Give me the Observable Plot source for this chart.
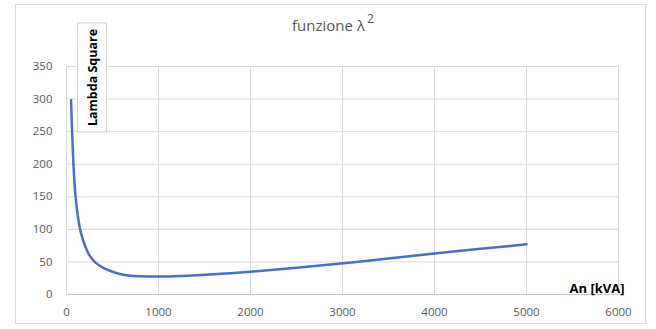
<!DOCTYPE html>
<html><head><meta charset="utf-8">
<script src="https://cdn.jsdelivr.net/npm/d3@7"></script>
<script src="https://cdn.jsdelivr.net/npm/@observablehq/plot@0.6"></script>
<style>
body{margin:0;background:#fff;}
svg{display:block;}
</style>
</head><body><div id="chart"></div>
<script>
const potenza = [50,100,160,250,315,400,500,630,800,1000,1250,1600,2000,2500,3150,4000,5000];
const lambda2 = [298,148,93,60,49,41,35,30,28,27.5,28.5,31,35,41,50,63,77];
const xTicks = [0,1000,2000,3000,4000,5000,6000];
const yTicks = [0,50,100,150,200,250,300,350];
const title = "funzione λ";
const titleSup = "2";
const seriesName = "Lambda Square";
const xLabel = "An [kVA]";

const data = potenza.map((x,i)=>({x, y: lambda2[i]}));
const font = "'Open Sans', 'Liberation Sans', sans-serif";

const chart = Plot.plot({
  width: 656, height: 329,
  marginLeft: 66, marginRight: 38, marginTop: 66, marginBottom: 35,
  style: {fontFamily: font, fontSize: "11.5px", color: "#595959", background: "#fff"},
  x: {domain: [0,6000], ticks: xTicks, tickFormat: "d", tickSize: 0, tickPadding: 13, label: null},
  y: {domain: [0,350], ticks: yTicks, tickFormat: "d", tickSize: 0, tickPadding: 14, label: null},
  marks: [
    Plot.gridX(xTicks, {stroke: "#d9d9d9", strokeOpacity: 1, strokeWidth: 1}),
    Plot.gridY(yTicks, {stroke: "#d9d9d9", strokeOpacity: 1, strokeWidth: 1}),
    Plot.ruleY([0], {stroke: "#c8c8c8", strokeWidth: 1}),
    Plot.line(data, {x: "x", y: "y", stroke: "#4472C4", strokeWidth: 2.5, curve: "catmull-rom"}),
    Plot.text([title], {frameAnchor: "top", lineAnchor: "middle", dx: -14, dy: -40, fontSize: 15, fill: "#595959", textAnchor: "middle"}),
    Plot.text([titleSup], {frameAnchor: "top", lineAnchor: "middle", dx: 28, dy: -47, fontSize: 12, fill: "#595959", textAnchor: "middle"}),
    Plot.text([seriesName], {frameAnchor: "top-left", lineAnchor: "middle", dx: 26, dy: 11, rotate: -90, fontSize: 12.5, fontWeight: "bold", fill: "#000", textAnchor: "middle", className: "serie-label"}),
    Plot.text([xLabel], {frameAnchor: "bottom-right", lineAnchor: "middle", dx: 6, dy: -6, fontSize: 13, fontWeight: "bold", fill: "#000", textAnchor: "end"})
  ]
});
document.getElementById("chart").appendChild(chart);

const svg = d3.select(chart);
svg.insert("rect", ":first-child")
  .attr("x", 15.5).attr("y", 4.5).attr("width", 630).attr("height", 319)
  .attr("fill", "none").attr("stroke", "#d9d9d9");
// box around series label
const lab = chart.querySelector(".serie-label text");
if (lab) {
  const bb = lab.getBBox();
  const g = lab.parentNode;
  const tr = lab.getAttribute("transform");
  d3.select(g).insert("rect", "text")
    .attr("transform", tr)
    .attr("x", bb.x - 6).attr("y", bb.y - 6)
    .attr("width", bb.width + 12).attr("height", bb.height + 12)
    .attr("fill", "#fff").attr("stroke", "#d0d0d0");
}
</script>
</body></html>
